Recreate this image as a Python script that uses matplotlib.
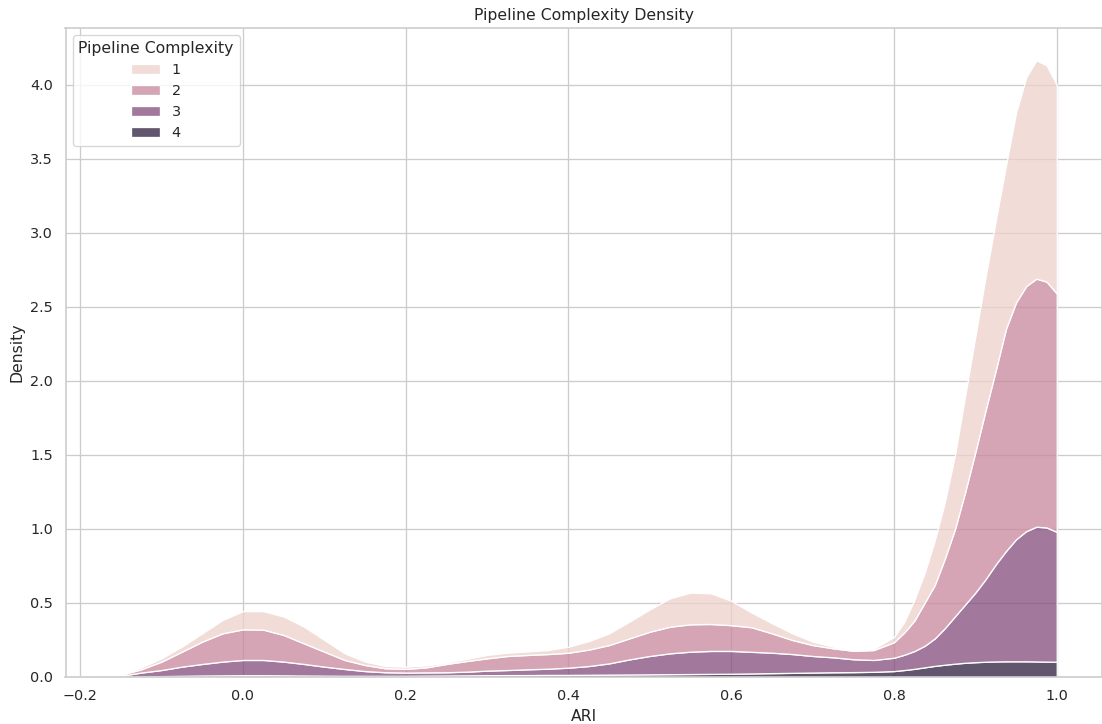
import matplotlib
matplotlib.use('Agg')
import matplotlib.pyplot as plt
from matplotlib.patches import Patch
from matplotlib.colors import Normalize, to_rgba
import numpy as np
import seaborn as sns

# ARI support points for the density estimates
ari = [-0.175, -0.15, -0.125, -0.1, -0.075, -0.05, -0.025, 0.0, 0.025, 0.05,
       0.075, 0.1, 0.125, 0.15, 0.175, 0.2, 0.225, 0.25, 0.275, 0.3,
       0.325, 0.35, 0.375, 0.4, 0.425, 0.45, 0.475, 0.5, 0.525, 0.55,
       0.575, 0.6, 0.625, 0.65, 0.675, 0.7, 0.725, 0.75, 0.775, 0.8,
       0.8125, 0.825, 0.8375, 0.85, 0.8625, 0.875, 0.8875, 0.9, 0.9125, 0.925,
       0.9375, 0.95, 0.9625, 0.975, 0.9875, 1.0]

# density contribution of each pipeline complexity level
density_c1 = [0, 0.005, 0.013, 0.022, 0.034, 0.056, 0.09, 0.123, 0.125, 0.124,
              0.113, 0.079, 0.045, 0.023, 0.015, 0.015, 0.013, 0.009, 0.014, 0.023,
              0.022, 0.024, 0.027, 0.041, 0.057, 0.079, 0.113, 0.151, 0.192, 0.214,
              0.207, 0.165, 0.099, 0.068, 0.045, 0.023, 0.011, 0.005, 0.008, 0.035,
              0.07, 0.14, 0.2, 0.3, 0.38, 0.5, 0.65, 0.78, 0.9, 1.01,
              1.1, 1.28, 1.41, 1.475, 1.46, 1.41]
density_c2 = [0, 0.007, 0.022, 0.057, 0.101, 0.151, 0.191, 0.207, 0.205, 0.18,
              0.139, 0.101, 0.061, 0.041, 0.027, 0.025, 0.034, 0.056, 0.072, 0.083,
              0.095, 0.097, 0.099, 0.101, 0.111, 0.124, 0.142, 0.164, 0.18, 0.185,
              0.182, 0.174, 0.166, 0.131, 0.095, 0.074, 0.061, 0.057, 0.067, 0.105,
              0.15, 0.205, 0.29, 0.36, 0.47, 0.59, 0.76, 0.95, 1.14, 1.31,
              1.5, 1.6, 1.655, 1.675, 1.66, 1.61]
density_c3 = [0, 0.006, 0.026, 0.041, 0.062, 0.078, 0.093, 0.103, 0.103, 0.093,
              0.078, 0.061, 0.046, 0.032, 0.024, 0.022, 0.022, 0.022, 0.025, 0.031,
              0.034, 0.039, 0.042, 0.049, 0.059, 0.076, 0.102, 0.124, 0.141, 0.151,
              0.155, 0.154, 0.146, 0.138, 0.127, 0.112, 0.101, 0.087, 0.08, 0.09,
              0.103, 0.12, 0.145, 0.185, 0.247, 0.32, 0.394, 0.47, 0.557, 0.655,
              0.744, 0.824, 0.879, 0.91, 0.906, 0.877]
density_c4 = [0, 0.002, 0.004, 0.006, 0.008, 0.01, 0.011, 0.012, 0.012, 0.011,
              0.01, 0.009, 0.008, 0.008, 0.008, 0.008, 0.009, 0.01, 0.011, 0.012,
              0.013, 0.013, 0.014, 0.014, 0.015, 0.016, 0.017, 0.018, 0.019, 0.02,
              0.021, 0.022, 0.024, 0.026, 0.028, 0.03, 0.032, 0.033, 0.035, 0.04,
              0.047, 0.055, 0.065, 0.075, 0.083, 0.09, 0.096, 0.1, 0.103, 0.105,
              0.106, 0.106, 0.106, 0.105, 0.104, 0.103]

levels = [1, 2, 3, 4]
x_ticks = [-0.2, 0.0, 0.2, 0.4, 0.6, 0.8, 1.0]
y_ticks = [0.0, 0.5, 1.0, 1.5, 2.0, 2.5, 3.0, 3.5, 4.0]

sns.set_theme(style="whitegrid")

DPI = 94
fig = plt.figure(figsize=(1102 / DPI, 724 / DPI), dpi=DPI)
ax = fig.add_axes([65.5 / 1102, 1 - 677 / 724, 1036 / 1102, 649.3 / 724])

cmap = sns.cubehelix_palette(as_cmap=True)
norm = Normalize(min(levels), max(levels))

x = np.array(ari)
layers = {1: density_c1, 2: density_c2, 3: density_c3, 4: density_c4}

# stack from the most complex level at the bottom up to level 1 on top
baseline = np.zeros_like(x)
handles = []
for level in reversed(levels):
    top = baseline + np.array(layers[level])
    face = to_rgba(cmap(norm(level)), 0.75)
    ax.fill_between(x, baseline, top, facecolor=face, edgecolor='white', linewidth=1)
    baseline = top

for level in levels:
    face = to_rgba(cmap(norm(level)), 0.75)
    handles.append(Patch(facecolor=face, edgecolor='white', linewidth=1, label=str(level)))

ax.set_xlim(-0.218, 1.055)
ax.set_ylim(0, 4.385)
ax.set_xticks(x_ticks)
ax.set_yticks(y_ticks)
ax.set_xlabel('ARI')
ax.set_ylabel('Density')
ax.set_title('Pipeline Complexity Density')
ax.legend(handles=handles, title='Pipeline Complexity', loc='upper left')

fig.savefig('out.png', dpi=DPI)
